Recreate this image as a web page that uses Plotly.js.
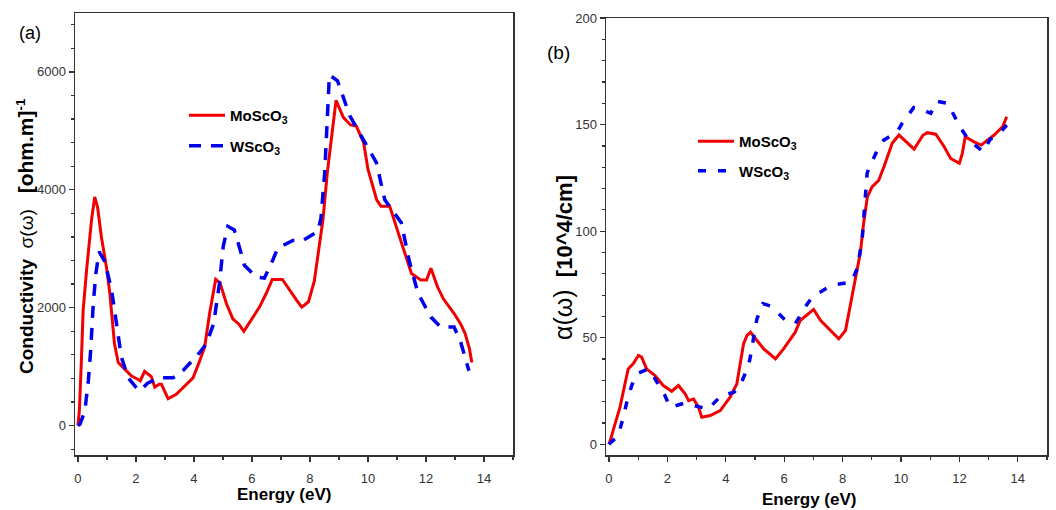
<!DOCTYPE html>
<html>
<head>
<meta charset="utf-8">
<script src="https://cdn.plot.ly/plotly-3.0.1.min.js"></script>
<style>html,body{margin:0;padding:0;background:#fff;}#chart{width:1056px;height:510px;}</style>
</head>
<body>
<div id="chart"></div>
<script>
// ---- Data ----
const seriesNames = ["MoScO<sub>3</sub>", "WScO<sub>3</sub>"];

// Panel (a): optical conductivity sigma(omega) [ohm.m]^-1 vs energy (eV)
const condMoE = [0.00,0.05,0.12,0.18,0.30,0.47,0.58,0.68,0.81,0.98,1.10,1.18,1.26,1.39,1.61,1.85,2.05,2.15,2.30,2.40,2.53,2.65,2.80,2.88,3.00,3.11,3.39,3.62,3.97,4.20,4.37,4.54,4.66,4.75,4.90,5.12,5.34,5.55,5.72,5.97,6.26,6.49,6.70,7.05,7.29,7.55,7.72,7.95,8.15,8.30,8.45,8.60,8.75,8.90,9.15,9.40,9.60,9.85,10.00,10.30,10.45,10.75,11.05,11.27,11.50,11.82,12.02,12.17,12.40,12.60,12.97,13.20,13.35,13.50,13.58];
const condMo  = [0,250,1100,1950,2640,3490,3880,3700,3200,2700,2250,1750,1390,1070,960,840,790,760,920,880,830,650,700,700,560,455,530,640,810,1100,1330,1900,2250,2480,2420,2070,1810,1720,1600,1780,2010,2240,2480,2480,2300,2120,2010,2100,2450,2950,3500,4300,4900,5520,5230,5100,5080,4800,4350,3830,3720,3720,3260,2920,2580,2470,2470,2670,2350,2150,1900,1720,1560,1300,1070];

const condWE = [0.00,0.07,0.24,0.36,0.44,0.53,0.62,0.73,0.93,1.16,1.33,1.50,1.73,2.05,2.15,2.40,2.82,3.28,3.62,4.20,4.43,4.68,4.88,5.01,5.17,5.39,5.63,5.74,6.15,6.43,6.72,6.89,7.41,7.75,8.27,8.38,8.51,8.57,8.67,8.95,9.37,9.83,10.29,10.58,11.15,11.42,11.72,12.17,12.51,12.97,13.20,13.48];
const condW  = [0,20,250,760,1270,2070,2580,2950,2780,2300,1730,1160,810,620,590,720,810,810,930,1240,1390,1730,2410,3040,3380,3320,2920,2720,2520,2500,2810,3010,3140,3140,3290,3520,4300,5000,5950,5850,5260,4860,4460,3830,3440,2800,2250,1840,1670,1670,1410,930];

// Panel (b): absorption alpha(omega) [10^4/cm] vs energy (eV)
const absMoE = [0.00,0.05,0.21,0.38,0.55,0.66,0.83,1.01,1.12,1.29,1.58,1.86,2.15,2.38,2.61,2.73,2.90,3.07,3.18,3.47,3.81,4.15,4.38,4.50,4.61,4.73,4.85,5.07,5.30,5.50,5.70,5.98,6.38,6.55,6.78,7.01,7.25,7.59,7.87,8.10,8.27,8.44,8.61,8.72,8.85,9.01,9.24,9.41,9.53,9.70,9.93,10.20,10.45,10.75,10.90,11.19,11.48,11.70,12.00,12.10,12.20,12.50,12.75,12.96,13.19,13.48,13.62];
const absMo  = [0,2,9.6,17.4,28.4,35.4,37.8,41.7,40.9,35.4,32.3,27.6,24.9,27.6,23.7,20.5,21.3,17.4,12.7,13.5,15.8,22.1,28.4,37.8,47.2,51.1,52.6,48.7,44.8,42.5,40.1,44.8,52.6,58.1,60.8,63.3,58.1,53.4,49.5,53.4,65.2,76.9,90,103.6,116.1,120.8,123.9,130,135,141.2,145.1,141.5,138.5,145,146.2,145.5,139.6,134.1,131.8,136.5,144.3,141.9,140.4,142.7,145.1,149.0,153.7];

const absWE = [0.00,0.32,0.49,0.61,0.78,0.95,1.35,1.58,1.92,2.09,2.61,2.90,3.41,3.84,4.27,4.47,4.78,4.90,4.98,5.07,5.27,5.55,6.06,6.38,6.75,6.96,7.50,7.80,8.30,8.50,8.67,8.76,8.84,8.90,9.19,9.41,9.87,10.04,10.44,10.61,11.02,11.21,11.60,11.81,12.05,12.33,12.82,13.05,13.42,13.62];
const absW  = [0,4.1,12.7,19.7,27.6,33.1,35.4,30.7,22.9,17.4,19.4,18.2,16.6,22.9,24.4,26.8,37,45,52.6,58.9,66.0,64.8,58,56.6,65,69.1,73.6,75.0,76.1,82.4,96,110,127.1,129.4,138.0,142.7,146.5,150.6,158,157.6,155.3,161,160,154.5,148.2,142.7,137.2,143,146.6,149.8];

// ---- Styling ----
const W = 1056, H = 510;
const RED = "rgb(240,0,0)", BLUE = "rgb(0,0,235)";
const FONT = "Arial, 'Liberation Sans', sans-serif";
const AX = "#333";

const traces = [
  {x: condMoE, y: condMo, xaxis: "x", yaxis: "y", mode: "lines", name: "<b>" + seriesNames[0] + "</b>",
   line: {color: RED, width: 3}, legend: "legend", legendgroup: "a1"},
  {x: condWE, y: condW, xaxis: "x", yaxis: "y", mode: "lines", name: "<b>" + seriesNames[1] + "</b>",
   line: {color: BLUE, width: 3.5, dash: "12px,10px"}, legend: "legend", legendgroup: "a2"},
  {x: absMoE, y: absMo, xaxis: "x2", yaxis: "y2", mode: "lines", name: "<b>" + seriesNames[0] + "</b>",
   line: {color: RED, width: 3}, legend: "legend2", legendgroup: "b1"},
  {x: absWE, y: absW, xaxis: "x2", yaxis: "y2", mode: "lines", name: "<b>" + seriesNames[1] + "</b>",
   line: {color: BLUE, width: 3.5, dash: "8px,12px"}, legend: "legend2", legendgroup: "b2"}
];

function axisBase(extra) {
  return Object.assign({
    showline: true, linecolor: AX, linewidth: 1.5, mirror: true,
    ticks: "outside", ticklen: 5, tickwidth: 1.2, tickcolor: AX,
    showgrid: false, zeroline: false,
    tickfont: {family: FONT, size: 13, color: AX},
    fixedrange: true
  }, extra);
}

function px(x) { return x / W; }
function py(y) { return 1 - y / H; }

const legendBase = {
  xanchor: "left", yanchor: "top", bgcolor: "rgba(0,0,0,0)", borderwidth: 0,
  font: {family: FONT, size: 15, color: "#000"}, itemwidth: 36,
  traceorder: "grouped"
};

function label(x, y, text, size, angle) {
  return {xref: "paper", yref: "paper", x: px(x), y: py(y), xanchor: "center", yanchor: "middle",
    text: text, textangle: angle || 0, showarrow: false, font: {family: FONT, size: size, color: "#000"}};
}

const layout = {
  width: W, height: H,
  margin: {l: 0, r: 0, t: 0, b: 0},
  paper_bgcolor: "#fff", plot_bgcolor: "#fff",
  showlegend: true,
  xaxis: axisBase({domain: [px(75), px(513)], anchor: "y", range: [-0.1, 15], tick0: 0, dtick: 2,
    ticklabelstandoff: 6,
    minor: {dtick: 1, ticklen: 3, tickcolor: AX, ticks: "outside", showgrid: false}}),
  yaxis: axisBase({domain: [py(455), py(13)], anchor: "x", range: [-500, 7000], tick0: 0, dtick: 2000,
    minor: {tick0: 0, dtick: 400, ticklen: 3, tickcolor: AX, ticks: "outside", showgrid: false}}),
  xaxis2: axisBase({domain: [px(606), px(1047)], anchor: "y2", range: [-0.1, 15], tick0: 0, dtick: 2,
    ticklabelstandoff: 6,
    minor: {dtick: 1, ticklen: 3, tickcolor: AX, ticks: "outside", showgrid: false}}),
  yaxis2: axisBase({domain: [py(455), py(18)], anchor: "x2", range: [-5, 200], tick0: 0, dtick: 50,
    minor: {tick0: 0, dtick: 10, ticklen: 3, tickcolor: AX, ticks: "outside", showgrid: false}}),
  legend: Object.assign({}, legendBase, {x: px(184), y: py(99), tracegroupgap: 8}),
  legend2: Object.assign({}, legendBase, {x: px(693), y: py(125), tracegroupgap: 7}),
  annotations: [
    label(25, 236, "<b>Conductivity</b>&nbsp;&nbsp;σ(ω)&nbsp;&nbsp;&nbsp;<b><span style='font-size:21px'>[ohm.m]</span><sup>-1</sup></b>", 19, -90),
    label(563, 258, "<span style='font-size:25px'>α(ω)</span>&nbsp;&nbsp;<b>[10^4/cm]</b>", 22, -90),
    label(284, 494, "<b>Energy (eV)</b>", 17),
    label(809, 499, "<b>Energy (eV)</b>", 17),
    label(30, 33, "(a)", 18),
    label(558, 53, "(b)", 19)
  ]
};

Plotly.newPlot("chart", traces, layout, {staticPlot: true, displayModeBar: false});
</script>
</body>
</html>
